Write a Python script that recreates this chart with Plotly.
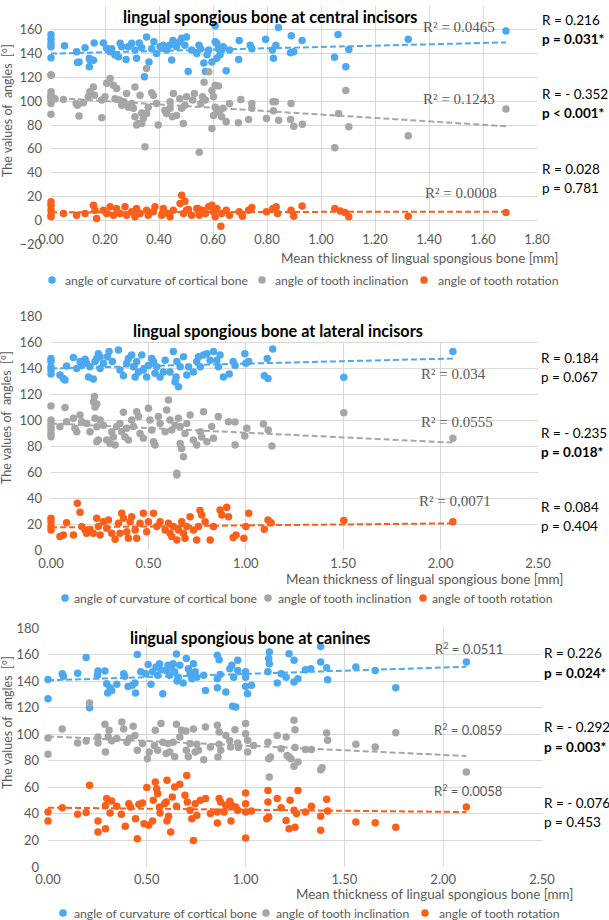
import plotly.graph_objects as go

# ---------------- DATA ----------------
series_names = ["angle of curvature of cortical bone", "angle of tooth inclination", "angle of tooth rotation"]
panel_titles = ["lingual spongious bone at central incisors",
                "lingual spongious bone at lateral incisors",
                "lingual spongious bone at canines"]
x_title = "Mean thickness of lingual spongious bone [mm]"
y_title = "The values of\u00a0 angles\u00a0 [°]"

# Panel 1 - central incisors (x, y)
p1_cortical = [(0,156),(0,152),(0,148.5),(0,145.7),(0,136.5),(0,122),
 (0.05,146.6),(0.095,141.5),(0.098,132.6),(0.104,133),(0.126,145),
 (0.142,129),(0.144,134.6),(0.142,136),(0.16,149),(0.157,134.5),
 (0.194,149),(0.206,144.4),(0.219,141.6),(0.237,138.8),(0.25,137.4),(0.225,144),
 (0.262,145.8),(0.256,148.6),(0.278,135),(0.286,145.8),(0.299,148.6),(0.311,143),(0.317,136),
 (0.327,149),(0.336,145),(0.354,154),(0.346,120.5),(0.363,133),(0.373,144),(0.381,150),
 (0.391,140),(0.404,145.8),(0.416,147),(0.428,143),(0.44,147),(0.447,134.6),(0.452,151),
 (0.465,145.8),(0.477,150),(0.484,152.8),(0.496,147),(0.502,154),(0.508,125),(0.521,143),(0.54,140),
 (0.548,147),(0.554,144),(0.566,132),(0.572,125),(0.578,139),(0.584,143),(0.596,133),(0.608,163.5),
 (0.608,150),(0.614,148.6),(0.614,136),(0.62,144),(0.626,139),(0.632,143),(0.638,145.8),(0.649,125.6),
 (0.661,143),(0.697,151),(0.695,135),(0.738,147),(0.744,144),(0.795,152),(0.82,143),(0.824,136),
 (0.842,162),(0.833,147),(0.89,155),(0.887,140.7),(0.899,141.6),(0.93,151),(1.05,137),(1.063,156),
 (1.092,129),(1.103,143.5),(1.323,152),(1.685,159)]
p1_inclination = [(0,122),(0,108),(0,105),(0,102),(0,98),(0,89),(0,104),(0,101),
 (0.015,102),(0.046,101.5),(0.093,98),(0.098,96.7),(0.104,87.5),(0.12,98.7),(0.144,108),(0.138,103.7),
 (0.157,112),(0.161,105),(0.188,86),(0.2,103.7),(0.188,101),(0.219,119),(0.206,115),(0.231,113.5),
 (0.243,110.7),(0.237,102),(0.253,101),(0.262,96.7),(0.27,99.5),(0.28,106.5),(0.286,95),(0.299,98),
 (0.311,112),(0.311,87),(0.317,80),(0.323,81.3),(0.305,94),(0.33,105),(0.336,90),(0.342,85.5),
 (0.336,81.3),(0.348,61.7),(0.354,89.7),(0.354,127.5),(0.36,95),(0.373,107),(0.379,105),(0.397,80),
 (0.391,98),(0.422,92.5),(0.428,89.7),(0.441,99.5),(0.441,94),(0.453,106.5),(0.45,87),(0.465,88),
 (0.477,102),(0.484,94),(0.49,81.3),(0.496,96.7),(0.502,103.7),(0.531,106.5),(0.525,101),(0.549,57),
 (0.555,98),(0.567,116),(0.561,103.7),(0.572,101),(0.584,124.8),(0.596,109),(0.596,77),(0.608,113.5),
 (0.62,112.7),(0.602,103.7),(0.608,95),(0.602,88),(0.614,91),(0.626,92.5),(0.632,87),(0.637,94),
 (0.649,82.7),(0.661,98),(0.694,81.9),(0.703,101.5),(0.732,84.7),(0.744,98),(0.744,94),(0.798,85.5),
 (0.822,99.5),(0.831,99.5),(0.824,92),(0.843,84),(0.889,98),(0.887,84.7),(0.899,79),(0.931,80.7),
 (1.051,60.8),(1.065,89.7),(1.092,109),(1.103,78.5),(1.323,71),(1.685,93.4)]
p1_rotation = [(0,15.4),(0,12.6),(0,8.4),(0,4.2),(0,2.8),(0.046,5.6),(0.095,4.2),(0.126,5.6),
 (0.157,12.6),(0.163,8.4),(0.169,1.4),(0.194,8.4),(0.206,5.6),(0.219,11.2),(0.231,4.2),(0.243,9.8),
 (0.256,5.6),(0.274,11.2),(0.28,4.2),(0.299,7),(0.311,2.8),(0.317,9.8),(0.33,5.6),(0.354,8.4),
 (0.36,4.2),(0.379,7),(0.385,11.2),(0.41,4.2),(0.416,9.8),(0.435,5.6),(0.441,2.8),(0.453,8.4),
 (0.484,21),(0.478,14),(0.496,16),(0.502,8.4),(0.521,4.2),(0.54,9.8),(0.491,5.6),(0.509,9),
 (0.544,9.8),(0.549,4.2),(0.561,8.4),(0.572,5.6),(0.584,11.2),(0.596,12.6),(0.602,7),(0.608,2.8),
 (0.614,9.8),(0.629,-5),(0.632,5.6),(0.649,8.4),(0.661,4.2),(0.697,7),(0.709,3.4),(0.732,8.4),
 (0.744,10.6),(0.798,7),(0.822,9.8),(0.834,11.2),(0.839,5.6),(0.889,8.4),(0.899,3.4),(0.93,12),
 (1.051,9.8),(1.071,7.8),(1.089,6.4),(1.103,2.8),(1.323,3.4),(1.685,6.4)]

# Panel 2 - lateral incisors
p2_cortical = [(0,147.4),(0,145),(0,141),(0,138.5),(0,135.4),(0.046,134.6),(0.072,130.8),(0.063,132),
 (0.08,141.5),(0.115,148),(0.132,139.7),(0.149,145),(0.158,142),(0.183,143.6),(0.2,141),(0.226,145),
 (0.235,147.4),(0.175,146.7),(0.192,133),(0.217,131.5),(0.243,151),(0.252,148.7),(0.252,139.7),
 (0.269,143.6),(0.298,152.6),(0.29,148.7),(0.315,145),(0.346,153.8),(0.354,138.5),(0.372,134),
 (0.389,143.6),(0.397,147.4),(0.414,150),(0.423,141),(0.432,133),(0.44,145),(0.449,137),(0.466,150),
 (0.474,138.5),(0.491,133),(0.5,142),(0.517,147.4),(0.526,145),(0.534,136),(0.543,141),(0.56,133),
 (0.577,137),(0.586,146),(0.611,137),(0.628,152.6),(0.646,145),(0.663,141),(0.654,125.6),(0.637,129.5),
 (0.642,133),(0.68,148.7),(0.697,134.6),(0.706,141),(0.731,137),(0.748,145),(0.757,148.7),(0.766,141),
 (0.783,150),(0.8,151),(0.817,146),(0.834,152.6),(0.851,146),(0.859,141),(0.868,150),(0.885,133),
 (0.915,135.4),(0.935,145),(0.945,142),(0.995,151),(1.0,143.6),(1.015,145),(1.095,134),(1.114,132),
 (1.11,147.4),(1.138,154.6),(1.503,132.8),(2.063,152.6)]
p2_inclination = [(0,110.8),(0,100),(0,97.4),(0,94.9),(0,92.3),(0,89.7),(0,87.2),(0.046,94.9),
 (0.072,109.7),(0.08,98.7),(0.115,101.3),(0.132,91),(0.123,93.6),(0.149,103.8),(0.158,98.7),(0.183,97.4),
 (0.2,91),(0.223,118),(0.218,114),(0.235,112.3),(0.226,110),(0.226,101.3),(0.235,94.9),(0.243,84.6),
 (0.235,83.3),(0.252,100),(0.269,96),(0.286,84.6),(0.303,82),(0.312,91),(0.32,87),(0.329,80.8),
 (0.337,95),(0.354,97.4),(0.363,91),(0.38,87),(0.389,93.6),(0.397,84.6),(0.372,106),(0.414,100),
 (0.423,95),(0.44,106.4),(0.449,102.6),(0.457,89.7),(0.474,86),(0.5,109),(0.508,100),(0.517,92.3),
 (0.526,83.3),(0.534,80.8),(0.551,102.6),(0.56,97.4),(0.586,91),(0.603,115.4),(0.594,107.7),(0.611,100),
 (0.62,92.3),(0.637,96),(0.654,101.3),(0.663,95),(0.646,59),(0.646,57.7),(0.663,82),(0.671,78),
 (0.68,71.8),(0.688,89.7),(0.697,97.4),(0.714,103.8),(0.731,84.6),(0.748,80.8),(0.766,91),(0.774,87),
 (0.8,83.3),(0.783,106.4),(0.825,95),(0.834,86),(0.859,102.6),(0.911,98.7),(0.945,98.5),(0.945,80.8),
 (0.995,87.7),(1.005,93.6),(1.09,97),(1.115,92.3),(1.134,80),(1.503,105.6),(2.063,86)]
p2_rotation = [(0,24.4),(0,21.8),(0,18),(0,15.4),(0.046,10.3),(0.063,11.5),(0.08,21),(0.115,11.5),
 (0.135,36),(0.149,29),(0.158,18),(0.175,15.4),(0.183,12.8),(0.2,15.4),(0.217,12.8),(0.235,24.4),
 (0.243,18),(0.252,11.5),(0.269,21.8),(0.286,16.7),(0.295,23),(0.312,12.8),(0.329,8.2),(0.346,20.5),
 (0.354,12.8),(0.363,28.2),(0.372,24.4),(0.389,14),(0.397,9),(0.406,21.8),(0.414,25.6),(0.432,15.4),
 (0.44,9),(0.457,20.5),(0.474,28.2),(0.491,14),(0.5,21.8),(0.526,28.2),(0.543,18),(0.56,21.8),
 (0.586,15.4),(0.603,20.5),(0.611,12.8),(0.62,10.3),(0.628,18),(0.646,7.7),(0.654,15.4),(0.671,21.8),
 (0.68,12.8),(0.688,9),(0.697,18),(0.714,25.6),(0.731,15.4),(0.748,7.7),(0.757,18),(0.765,30.3),
 (0.774,27),(0.791,21.8),(0.817,7.7),(0.834,18),(0.868,30.8),(0.877,27),(0.902,32.8),(0.911,25.6),
 (0.935,9.7),(0.95,11.5),(0.99,9),(1.0,18),(1.015,28.2),(1.095,16),(1.114,23),(1.13,21),
 (1.503,22.6),(2.063,21.8)]

# Panel 3 - canines
p3_cortical = [(0,141.3),(0,126.8),(0.072,145.6),(0.078,143.6),(0.15,146),(0.193,157.7),(0.21,120),
 (0.253,147.6),(0.25,144.4),(0.288,147.6),(0.297,138),(0.302,131),(0.314,135),(0.322,133),(0.348,137.6),
 (0.383,145.6),(0.388,143.6),(0.405,136),(0.426,136.8),(0.44,138.6),(0.443,131),(0.452,160),(0.469,147),
 (0.495,145.6),(0.507,152.6),(0.521,137.6),(0.529,147),(0.547,150.6),(0.555,144.4),(0.564,153),
 (0.581,130.5),(0.572,148.6),(0.598,148),(0.607,152),(0.616,144.4),(0.624,150),(0.633,153),(0.641,147),
 (0.65,160.5),(0.659,143),(0.653,140),(0.667,152),(0.684,138.6),(0.7,157),(0.71,149.4),(0.719,145.6),
 (0.728,141.8),(0.736,153),(0.745,147),(0.753,143),(0.788,144.4),(0.797,133),(0.857,159.4),(0.866,156),
 (0.857,141.8),(0.871,145),(0.857,135),(0.9,131.8),(0.934,121),(0.92,149.4),(0.93,152),(0.94,143),
 (0.95,120.5),(0.96,155.7),(0.96,148),(1.0,147),(1.0,143),(1.0,136),(1.01,130.5),(1.03,136.8),
 (1.113,147),(1.12,153),(1.12,162),(1.117,157),(1.16,138.6),(1.18,145.6),(1.205,143),(1.22,160.7),
 (1.245,155.7),(1.245,139.3),(1.265,141.8),(1.303,148.6),(1.33,149.4),(1.38,166),(1.38,154.4),
 (1.41,150),(1.415,141),(1.558,150.6),(1.656,148),(1.76,135),(2.117,154.4)]
p3_inclination = [(0,97.2),(0,84.9),(0.072,104),(0.15,93.4),(0.193,94.9),(0.21,123.5),(0.253,98),
 (0.253,93.4),(0.288,107.5),(0.291,86.6),(0.305,98),(0.309,103),(0.322,95),(0.348,96.7),(0.374,109.2),
 (0.383,104),(0.4,94),(0.412,96.7),(0.431,106),(0.44,99),(0.452,88),(0.478,93),(0.503,81.6),(0.512,86.6),
 (0.538,91.6),(0.543,103),(0.555,88),(0.572,108),(0.581,94),(0.598,85.4),(0.607,93),(0.616,86.6),
 (0.633,94),(0.641,83),(0.65,107.5),(0.667,98),(0.676,103),(0.7,88),(0.698,102.4),(0.71,83),(0.719,93),
 (0.736,104),(0.745,86.6),(0.753,92.4),(0.762,88),(0.788,80.8),(0.797,105.5),(0.822,90.4),(0.857,106.7),
 (0.866,101.7),(0.866,92.4),(0.874,88),(0.86,82.9),(0.9,99),(0.92,95),(0.924,90.4),(0.946,103.4),
 (0.96,93.4),(0.963,90),(1.0,108),(1.0,100.4),(1.01,95.4),(1.01,86.6),(1.04,91.6),(1.113,94),
 (1.117,81.6),(1.126,82.9),(1.12,67.8),(1.16,99),(1.18,89),(1.205,98),(1.21,84),(1.22,82.9),(1.23,81.6),
 (1.245,110.5),(1.25,103.4),(1.25,90),(1.245,75.8),(1.265,79),(1.303,88.4),(1.333,88.4),(1.38,73.3),
 (1.387,74.8),(1.41,101),(1.415,95.4),(1.558,92.4),(1.656,90.4),(1.76,101.2),(2.117,71.6)]
p3_rotation = [(0,41.4),(0,34.6),(0.072,44.7),(0.15,39.7),(0.193,41),(0.21,61.5),(0.253,34.6),
 (0.253,26.4),(0.291,28.9),(0.297,51.5),(0.291,46.4),(0.314,40.7),(0.322,49.7),(0.348,45.7),(0.371,39.7),
 (0.391,30.6),(0.409,47.7),(0.417,45.2),(0.443,36.4),(0.452,21.3),(0.46,47.2),(0.478,48.2),(0.486,32.6),
 (0.509,31.4),(0.5,59.8),(0.529,34.6),(0.533,50.2),(0.543,64),(0.55,59),(0.555,55.2),(0.564,45.2),
 (0.567,40.7),(0.59,47.7),(0.598,49),(0.602,34.6),(0.61,38.2),(0.602,65.3),(0.621,26.4),(0.629,52.7),
 (0.641,60.3),(0.65,45.7),(0.667,62.3),(0.702,69),(0.693,54),(0.705,49),(0.719,42.7),(0.728,36.4),
 (0.736,20),(0.745,47.7),(0.753,38.9),(0.771,50.2),(0.797,51.5),(0.822,40.2),(0.857,41.4),(0.866,51.5),
 (0.874,49),(0.857,33.1),(0.891,41.4),(0.9,46.4),(0.926,34.6),(0.92,49.5),(0.93,46.4),(0.95,45.2),
 (0.96,42.7),(1.0,55.7),(1.0,47.7),(1.0,41.4),(1.0,21.8),(1.03,42.2),(1.113,57.7),(1.113,49),
 (1.107,36.4),(1.117,37.7),(1.16,51.5),(1.18,44.7),(1.205,35.1),(1.22,28.9),(1.225,50.2),(1.245,42.7),
 (1.25,30),(1.265,57.7),(1.258,40.2),(1.303,41.4),(1.333,45.7),(1.38,38.2),(1.38,27.6),(1.41,51),
 (1.415,42.2),(1.558,33.9),(1.656,33.4),(1.76,30),(2.117,45.2)]

# trend lines: (x_start, y_start, x_end, y_end) per series
p1_trends = [(0, 140, 1.685, 149.4), (0, 103, 1.685, 79), (0, 6.7, 1.685, 7.2)]
p2_trends = [(0, 139.7, 2.063, 147.3), (0, 97.4, 2.063, 82.6), (0, 17.4, 2.063, 20.5)]
p3_trends = [(0, 140.6, 2.117, 150.8), (0, 98.4, 2.117, 83.6), (0, 44.7, 2.117, 41.4)]

p1_r2 = ["R² = 0.0465", "R² = 0.1243", "R² = 0.0008"]
p2_r2 = ["R² = 0.034", "R² = 0.0555", "R² = 0,0071"]
p3_r2 = ["R<sup>2</sup> = 0.0511", "R<sup>2</sup> = 0.0859", "R<sup>2</sup> = 0.0058"]

p1_R = ["R = 0.216", "R = - 0.352", "R = 0.028"]
p1_p = ["<b>p = 0.031*</b>", "<b>p < 0.001*</b>", "p = 0.781"]
p2_R = ["R = 0.184", "R = - 0.235", "R = 0.084"]
p2_p = ["p = 0.067", "<b>p = 0.018*</b>", "p = 0.404"]
p3_R = ["R = 0.226", "R = - 0.292", "R = - 0.076"]
p3_p = ["<b>p = 0.024*</b>", "<b>p = 0.003*</b>", "p = 0.453"]

p1_yticks = list(range(-20, 181, 20))
p23_yticks = list(range(0, 181, 20))
p1_xrange = [0, 1.8]
p23_xrange = [0, 2.5]

# ---------------- STYLE / LAYOUT ----------------
W, H = 609, 920
def PX(v): return v / W
def PY(v): return 1 - v / H

colors = ["#4ca9f0", "#a6a6a6", "#fc5f1a"]
FONT = "Lato, 'Open Sans', sans-serif"
SERIF = "'Liberation Serif', 'DejaVu Serif', serif"
TXT = "#595959"
GRID = "#d9d9d9"

panels = [
    dict(data=[p1_cortical, p1_inclination, p1_rotation], trends=p1_trends, r2=p1_r2, R=p1_R, p=p1_p,
         xr=p1_xrange, dx=0.2, yr=[-20, 180], yt=p1_yticks, xdom=(51, 537), ydom=(244, 6), xaxis_at=220,
         xstand=10,
         title_xy=(270, 17), r2_xy=[(459, 27), (459, 99), (461, 193)], r2_font=SERIF, r2_size=15,
         Rp_x=540, R_y=[20, 94, 169], p_y=[39, 113, 188],
         xt_xy=(560, 258), yt_xy=(7, 111), leg_y=280, leg_m=[52, 262, 424], leg_t=[63, 273, 436]),
    dict(data=[p2_cortical, p2_inclination, p2_rotation], trends=p2_trends, r2=p2_r2, R=p2_R, p=p2_p,
         xr=p23_xrange, dx=0.5, yr=[0, 180], yt=p23_yticks, xdom=(51, 538), ydom=(550, 316), xaxis_at=None,
         xstand=4,
         title_xy=(278, 330), r2_xy=[(453, 374), (457, 422), (455, 501)], r2_font=SERIF, r2_size=15,
         Rp_x=539, R_y=[358, 433, 507], p_y=[377, 452, 526],
         xt_xy=(565, 579), yt_xy=(7, 418), leg_y=598, leg_m=[65, 268, 423], leg_t=[72, 276, 430],
         title_box=True),
    dict(data=[p3_cortical, p3_inclination, p3_rotation], trends=p3_trends, r2=p3_r2, R=p3_R, p=p3_p,
         xr=p23_xrange, dx=0.5, yr=[0, 180], yt=p23_yticks, xdom=(48, 542), ydom=(867, 628), xaxis_at=None,
         xstand=3,
         title_xy=(250, 637), r2_xy=[(469, 648), (468, 729), (468, 790)], r2_font=FONT, r2_size=13,
         Rp_x=542, R_y=[653, 727, 803], p_y=[673, 747, 822],
         xt_xy=(575, 894), yt_xy=(7, 723), leg_y=913, leg_m=[63, 266, 425], leg_t=[72, 274, 437]),
]

fig = go.Figure()
annotations = []
shapes = []
layout_axes = {}

for i, P in enumerate(panels):
    n = "" if i == 0 else str(i + 1)
    xa, ya = "x" + n, "y" + n
    for s, pts in enumerate(P["data"]):
        fig.add_trace(go.Scatter(
            x=[a for a, b in pts], y=[b for a, b in pts], mode="markers",
            marker=dict(color=colors[s], size=7.5, line=dict(width=0)),
            xaxis=xa, yaxis=ya, showlegend=False, name=series_names[s], cliponaxis=False))
    for s, (x0, y0, x1, y1) in enumerate(P["trends"]):
        fig.add_trace(go.Scatter(
            x=[x0, x1], y=[y0, y1], mode="lines",
            line=dict(color=colors[s], width=2, dash="6px,3px"),
            xaxis=xa, yaxis=ya, showlegend=False, hoverinfo="skip"))

    xax = dict(domain=[PX(P["xdom"][0]), PX(P["xdom"][1])], range=P["xr"], dtick=P["dx"], tick0=0,
               tickformat=".2f", showgrid=True, gridcolor=GRID, gridwidth=1, zeroline=False,
               showline=False, ticks="", tickfont=dict(family=FONT, size=13, color=TXT),
               ticklabelstandoff=P["xstand"], fixedrange=True, automargin=False)
    if P["xaxis_at"] is not None:
        xax.update(anchor="free", position=PY(P["xaxis_at"]))
    else:
        xax.update(anchor=ya)
    yax = dict(domain=[PY(P["ydom"][0]), PY(P["ydom"][1])], range=P["yr"], tickvals=P["yt"],
               showgrid=True, gridcolor=GRID, gridwidth=1, zeroline=False, showline=False, ticks="",
               tickfont=dict(family=FONT, size=13, color=TXT), anchor=xa, ticklabelstandoff=8,
               fixedrange=True, automargin=False)
    layout_axes["xaxis" + n] = xax
    layout_axes["yaxis" + n] = yax

    if P.get("title_box"):
        shapes.append(dict(type="rect", xref=xa, yref=ya, x0=P["xr"][0], x1=P["xr"][1], y0=160, y1=180,
                           fillcolor="white", line=dict(width=0), layer="between"))

    annotations.append(dict(text="<b>" + panel_titles[i] + "</b>", x=PX(P["title_xy"][0]), y=PY(P["title_xy"][1]),
                            xref="paper", yref="paper", showarrow=False, xanchor="center", yanchor="middle",
                            font=dict(family=FONT, size=16.2, color="black")))
    for s in range(3):
        annotations.append(dict(text=P["r2"][s], x=PX(P["r2_xy"][s][0]), y=PY(P["r2_xy"][s][1]),
                                xref="paper", yref="paper", showarrow=False, xanchor="center", yanchor="middle",
                                font=dict(family=P["r2_font"], size=P["r2_size"], color=TXT)))
        annotations.append(dict(text=P["R"][s], x=PX(P["Rp_x"]), y=PY(P["R_y"][s]),
                                xref="paper", yref="paper", showarrow=False, xanchor="left", yanchor="middle",
                                font=dict(family=FONT, size=13.5, color="black")))
        annotations.append(dict(text=P["p"][s], x=PX(P["Rp_x"]), y=PY(P["p_y"][s]),
                                xref="paper", yref="paper", showarrow=False, xanchor="left", yanchor="middle",
                                font=dict(family=FONT, size=13.5, color="black")))
        annotations.append(dict(text=series_names[s], x=PX(P["leg_t"][s]), y=PY(P["leg_y"]),
                                xref="paper", yref="paper", showarrow=False, xanchor="left", yanchor="middle",
                                font=dict(family=FONT, size=12.2, color=TXT)))
        cx, cy, r = P["leg_m"][s], P["leg_y"], 3.8
        shapes.append(dict(type="circle", xref="paper", yref="paper", x0=PX(cx - r), x1=PX(cx + r),
                           y0=PY(cy + r), y1=PY(cy - r), fillcolor=colors[s], line=dict(width=0)))
    annotations.append(dict(text=x_title, x=PX(P["xt_xy"][0]), y=PY(P["xt_xy"][1]), xref="paper", yref="paper",
                            showarrow=False, xanchor="right", yanchor="middle",
                            font=dict(family=FONT, size=13.4, color=TXT)))
    annotations.append(dict(text=y_title, x=PX(P["yt_xy"][0]), y=PY(P["yt_xy"][1]), xref="paper", yref="paper",
                            showarrow=False, xanchor="center", yanchor="middle", textangle=-90,
                            font=dict(family=FONT, size=12.5, color=TXT)))

fig.update_layout(width=W, height=H, margin=dict(l=0, r=0, t=0, b=0, autoexpand=False), paper_bgcolor="white",
                  plot_bgcolor="white", showlegend=False, annotations=annotations, shapes=shapes,
                  **layout_axes)
fig.write_html("out.html", config={"displayModeBar": False},
               post_script="document.body.style.margin='0px';document.body.style.overflow='hidden';")
